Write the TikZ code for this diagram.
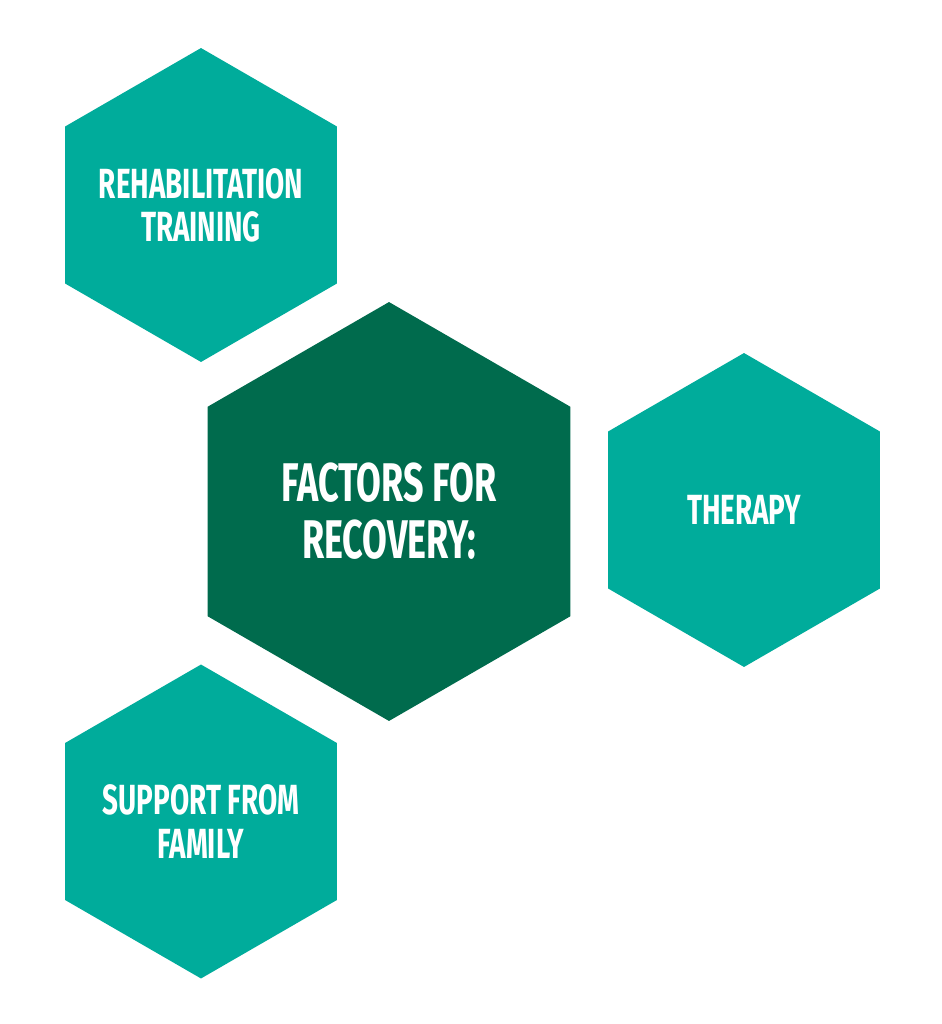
\documentclass[tikz,border=0pt]{standalone}
\usepackage{fontspec}
\setmainfont{Fira Sans}[FakeStretch=0.66]
\usetikzlibrary{shapes.geometric}
\definecolor{tealhex}{RGB}{0,172,155}
\definecolor{darkhex}{RGB}{0,107,77}

\begin{document}
\begin{tikzpicture}[
    x=0.02cm, y=-0.02cm,
    hexbox/.style={
        regular polygon, regular polygon sides=6, shape border rotate=30,
        draw=none, fill=tealhex, inner sep=0pt, outer sep=0pt,
        minimum size=6.28cm
    },
    corebox/.style={
        hexbox, fill=darkhex, minimum size=8.38cm
    },
    hextext/.style={
        align=center, text=white, inner sep=0pt,
        font=\fontsize{24}{24.5}\selectfont\bfseries
    },
    coretext/.style={
        hextext, font=\fontsize{31}{32.5}\selectfont\bfseries
    },
]

% Canvas
\useasboundingbox[fill=white] (0,0) rectangle (942,1024);

% Centre hexagon
\node[corebox] (core) at (389,511.5) {};
\node[coretext] (coretxt) at (core.center) {FACTORS FOR\\RECOVERY:};

% Outer hexagons
\node[hexbox] (rehab) at (201,205) {};
\node[hextext] (rehabtxt) at (rehab.center) {REHABILITATION\\TRAINING};

\node[hexbox] (therapy) at (744,510) {};
\node[hextext] (therapytxt) at (therapy.center) {THERAPY};

\node[hexbox] (family) at (201,821.5) {};
\node[hextext] (familytxt) at (family.center) {SUPPORT FROM\\FAMILY};

\end{tikzpicture}
\end{document}
